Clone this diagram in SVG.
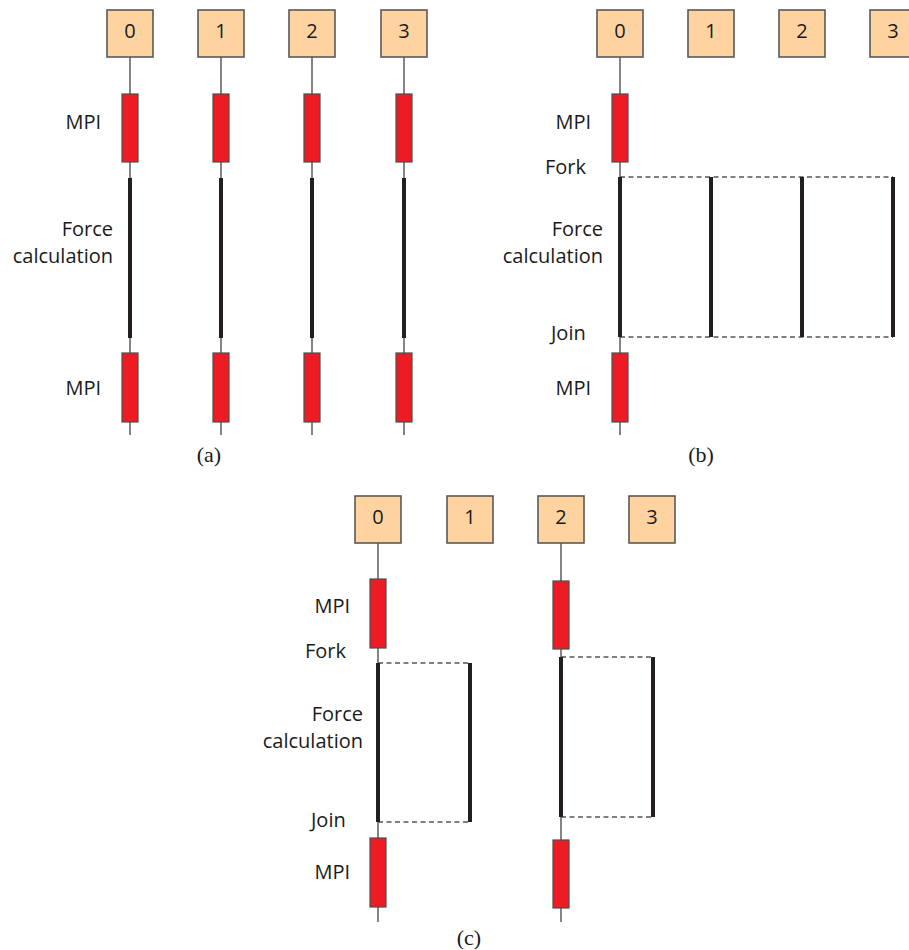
<svg xmlns="http://www.w3.org/2000/svg" width="909" height="950" viewBox="0 0 909 950">
<style>
.box{fill:#FFD39F;stroke:#595959;stroke-width:1.6}
.num{font-family:"Open Sans","DejaVu Sans",sans-serif;font-size:20px;fill:#1a1a1a;text-anchor:middle}
.red{fill:#ED1C24;stroke:#4d4d4d;stroke-width:1.2}
.thin{stroke:#333;stroke-width:1.2;fill:none}
.thick{stroke:#231F20;stroke-width:4;fill:none}
.dash{stroke:#555;stroke-width:1.3;stroke-dasharray:5 3.5;fill:none}
.lbl{font-family:"Open Sans","DejaVu Sans",sans-serif;font-size:20px;fill:#1a1a1a}
.end{text-anchor:end}
.cap{font-family:"Liberation Serif","Times New Roman",serif;font-size:22px;fill:#1a1a1a;text-anchor:middle}
</style>
<rect width="909" height="950" fill="#fff"/>
<g id="connectors">
  <line class="thin" x1="130" y1="57" x2="130" y2="435"/>
  <line class="thin" x1="221" y1="57" x2="221" y2="435"/>
  <line class="thin" x1="312" y1="57" x2="312" y2="435"/>
  <line class="thin" x1="404" y1="57" x2="404" y2="435"/>
  <line class="thick" x1="130" y1="178" x2="130" y2="338"/>
  <line class="thick" x1="221" y1="178" x2="221" y2="338"/>
  <line class="thick" x1="312" y1="178" x2="312" y2="338"/>
  <line class="thick" x1="404" y1="178" x2="404" y2="338"/>
  <line class="thin" x1="620" y1="57" x2="620" y2="435"/>
  <path class="dash" d="M620 177H893M620 337H893"/>
  <line class="thick" x1="620" y1="177" x2="620" y2="337"/>
  <line class="thick" x1="711" y1="177" x2="711" y2="337"/>
  <line class="thick" x1="802" y1="177" x2="802" y2="337"/>
  <line class="thick" x1="893" y1="177" x2="893" y2="337"/>
  <line class="thin" x1="378" y1="543" x2="378" y2="922"/>
  <line class="thin" x1="561" y1="543" x2="561" y2="922"/>
  <path class="dash" d="M378 663H470M378 822H470M561 657H653M561 817H653"/>
  <line class="thick" x1="378" y1="663" x2="378" y2="822"/>
  <line class="thick" x1="470" y1="663" x2="470" y2="822"/>
  <line class="thick" x1="561" y1="657" x2="561" y2="817"/>
  <line class="thick" x1="653" y1="657" x2="653" y2="817"/>
</g>
<g id="panel-a">
  <g id="a-p0"><rect class="box" x="107" y="10" width="46" height="47"/><text class="num" x="130" y="38">0</text></g>
  <g id="a-p1"><rect class="box" x="198" y="10" width="46" height="47"/><text class="num" x="221" y="38">1</text></g>
  <g id="a-p2"><rect class="box" x="289" y="10" width="46" height="47"/><text class="num" x="312" y="38">2</text></g>
  <g id="a-p3"><rect class="box" x="381" y="10" width="46" height="47"/><text class="num" x="404" y="38">3</text></g>
  <g id="a-mpi1">
    <rect class="red" x="122" y="94" width="16" height="68"/>
    <rect class="red" x="213" y="94" width="16" height="68"/>
    <rect class="red" x="304" y="94" width="16" height="68"/>
    <rect class="red" x="396" y="94" width="16" height="68"/>
  </g>
  <g id="a-mpi2">
    <rect class="red" x="122" y="353" width="16" height="69"/>
    <rect class="red" x="213" y="353" width="16" height="69"/>
    <rect class="red" x="304" y="353" width="16" height="69"/>
    <rect class="red" x="396" y="353" width="16" height="69"/>
  </g>
  <g id="a-labels">
    <text class="lbl end" x="101" y="129">MPI</text>
    <text class="lbl end" x="113" y="236">Force</text>
    <text class="lbl end" x="113" y="263">calculation</text>
    <text class="lbl end" x="101" y="395">MPI</text>
    <text class="cap" x="209" y="462">(a)</text>
  </g>
</g>
<g id="panel-b">
  <g id="b-p0"><rect class="box" x="597" y="10" width="46" height="47"/><text class="num" x="620" y="38">0</text></g>
  <g id="b-p1"><rect class="box" x="688" y="10" width="46" height="47"/><text class="num" x="711" y="38">1</text></g>
  <g id="b-p2"><rect class="box" x="779" y="10" width="46" height="47"/><text class="num" x="802" y="38">2</text></g>
  <g id="b-p3"><rect class="box" x="870" y="10" width="46" height="47"/><text class="num" x="893" y="38">3</text></g>
  <g id="b-mpi">
    <rect class="red" x="612" y="94" width="16" height="68"/>
    <rect class="red" x="612" y="353" width="16" height="69"/>
  </g>
  <g id="b-labels">
    <text class="lbl end" x="591" y="129">MPI</text>
    <text class="lbl" x="545" y="174">Fork</text>
    <text class="lbl end" x="603" y="236">Force</text>
    <text class="lbl end" x="603" y="263">calculation</text>
    <text class="lbl" x="551" y="340">Join</text>
    <text class="lbl end" x="591" y="395">MPI</text>
    <text class="cap" x="701" y="462">(b)</text>
  </g>
</g>
<g id="panel-c">
  <g id="c-p0"><rect class="box" x="355" y="496" width="46" height="47"/><text class="num" x="378" y="524">0</text></g>
  <g id="c-p1"><rect class="box" x="447" y="496" width="46" height="47"/><text class="num" x="470" y="524">1</text></g>
  <g id="c-p2"><rect class="box" x="538" y="496" width="46" height="47"/><text class="num" x="561" y="524">2</text></g>
  <g id="c-p3"><rect class="box" x="629" y="496" width="46" height="47"/><text class="num" x="652" y="524">3</text></g>
  <g id="c-mpi">
    <rect class="red" x="370" y="579" width="16" height="69"/>
    <rect class="red" x="553" y="581" width="16" height="68"/>
    <rect class="red" x="370" y="838" width="16" height="69"/>
    <rect class="red" x="553" y="840" width="16" height="68"/>
  </g>
  <g id="c-labels">
    <text class="lbl end" x="350" y="613">MPI</text>
    <text class="lbl" x="305" y="658">Fork</text>
    <text class="lbl end" x="363" y="721">Force</text>
    <text class="lbl end" x="363" y="748">calculation</text>
    <text class="lbl" x="311" y="827">Join</text>
    <text class="lbl end" x="350" y="879">MPI</text>
    <text class="cap" x="469" y="945">(c)</text>
  </g>
</g>
</svg>
